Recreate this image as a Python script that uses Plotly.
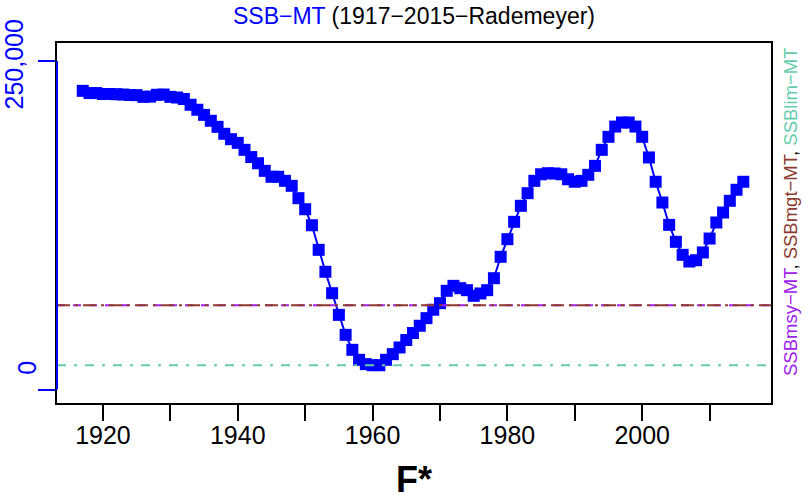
import plotly.graph_objects as go

years = list(range(1917, 2016))
ssb = [227300, 225600, 225600, 224900, 224900, 224700, 224500, 224100, 224000, 222700,
       222900, 224300, 224500, 222700, 222200, 221100, 216700, 212900, 209000, 204500,
       199900, 194600, 190500, 187700, 182400, 176900, 172200, 166400, 161900, 161900,
       158800, 155000, 145600, 137200, 125000, 106300, 89600, 73300, 56800, 41600,
       30200, 22600, 19300, 18500, 18500, 22600, 26900, 32000, 37700, 43000,
       48500, 54300, 60700, 65700, 75100, 78900, 77100, 75600, 71300, 73100,
       75600, 84700, 101000, 114400, 127600, 139800, 149400, 158800, 163800, 164600,
       164400, 163800, 160000, 158100, 158800, 163400, 170200, 182400, 192300, 200100,
       203200, 203200, 200100, 192300, 176600, 158100, 142300, 125300, 112400, 102500,
       97400, 98400, 104300, 114900, 127100, 134700, 143600, 152000, 158100]

ssb_msy = 64100
ssb_mgt = 64100
ssb_lim = 18400

x_ticks = [1920, 1930, 1940, 1950, 1960, 1970, 1980, 1990, 2000, 2010]
x_labels = ["1920", "", "1940", "", "1960", "", "1980", "", "2000", ""]

col_msy = "#A020F0"
col_mgt = "#8C3B2E"
col_lim = "#66CDAA"
font = "Arial, Liberation Sans, sans-serif"

y_range = [-10270, 263700]

fig = go.Figure()
fig.add_trace(go.Scatter(x=years, y=ssb, mode="lines+markers",
                         line=dict(color="blue", width=2),
                         marker=dict(symbol="square", size=12, color="blue"),
                         showlegend=False))
# carries the "0" label on the overlay axis
fig.add_trace(go.Scatter(x=[years[0]], y=[0], yaxis="y2", mode="markers",
                         marker=dict(opacity=0), hoverinfo="skip", showlegend=False))

# reference lines
fig.add_hline(y=ssb_msy, line=dict(color=col_msy, width=2, dash="8px,8px"))
fig.add_hline(y=ssb_mgt, line=dict(color=col_mgt, width=2, dash="13px,5px,3px,5px"))
fig.add_hline(y=ssb_lim, line=dict(color=col_lim, width=2, dash="9px,8px,3px,8px"))

# blue left axis segment
fig.add_shape(type="line", xref="paper", x0=0, x1=0, yref="y", y0=0, y1=250000,
              line=dict(color="blue", width=2))

fig.update_layout(
    width=805, height=500,
    margin=dict(l=57, r=34, t=43, b=97, autoexpand=False),
    plot_bgcolor="white", paper_bgcolor="white",
    font=dict(family=font, color="black"),
    title=dict(text='<span style="color:blue">SSB\u2212MT</span> (1917\u22122015\u2212Rademeyer)',
               x=0.5, xref="paper", xanchor="center",
               y=1 - 16 / 500, yref="container", yanchor="middle",
               font=dict(size=23, family=font)),
    xaxis=dict(range=[1913.18, 2019.11], tickvals=x_ticks, ticktext=x_labels,
               ticks="outside", ticklen=16, tickwidth=2, tickcolor="black",
               ticklabelstandoff=-7,
               tickfont=dict(size=25), showgrid=False, zeroline=False,
               showline=True, linecolor="black", linewidth=2, mirror=True,
               automargin=False,
               title=dict(text="<b>F*</b>", font=dict(size=36), standoff=27)),
    yaxis=dict(range=y_range, tickvals=[0, 250000], ticktext=["", "250,000"],
               ticks="outside", ticklen=17, tickwidth=2, tickcolor="blue",
               ticklabelshift=7, ticklabelstandoff=5,
               tickangle=-90, tickfont=dict(size=25, color="blue"),
               showgrid=False, zeroline=False, automargin=False,
               showline=True, linecolor="black", linewidth=2, mirror=True),
    yaxis2=dict(range=y_range, overlaying="y", side="left", tickvals=[0], ticktext=["0"],
                ticks="", ticklabelstandoff=15, ticklabelshift=-18, tickangle=-90,
                tickfont=dict(size=25, color="blue"), automargin=False,
                showgrid=False, zeroline=False, showline=False),
)

fig.add_annotation(
    text=(f'<span style="color:{col_msy}">SSBmsy\u2212MT</span>, '
          f'<span style="color:{col_mgt}">SSBmgt\u2212MT</span>, '
          f'<span style="color:{col_lim}">SSBlim\u2212MT</span>'),
    xref="paper", yref="paper", x=(790 - 57) / 714, y=(403 - 212) / 360,
    xanchor="center", yanchor="middle", textangle=-90, showarrow=False,
    font=dict(size=18.5, family=font))

fig.write_html("out.html", config={"displayModeBar": False},
               post_script="document.body.style.margin = '0px';")
